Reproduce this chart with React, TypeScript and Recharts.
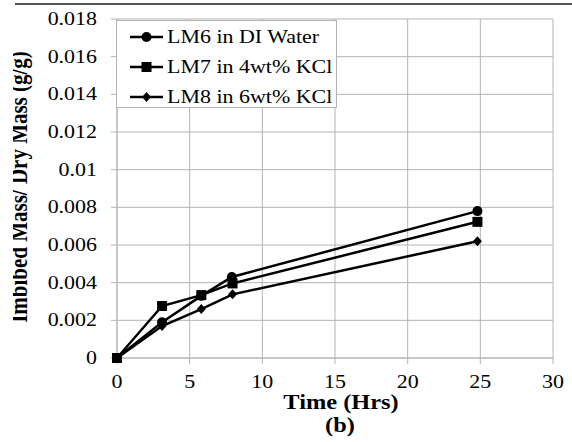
import React from 'react';
import { LineChart, Line, XAxis, YAxis, CartesianGrid } from 'recharts';

const xTicks = [0, 5, 10, 15, 20, 25, 30];
const yTicks = [0, 0.002, 0.004, 0.006, 0.008, 0.01, 0.012, 0.014, 0.016, 0.018];
const yTickLabels = ['0', '0.002', '0.004', '0.006', '0.008', '0.01', '0.012', '0.014', '0.016', '0.018'];

const lm6Data = [
    { x: 0, y: 0 },
    { x: 3.1, y: 0.0019 },
    { x: 5.8, y: 0.0033 },
    { x: 7.9, y: 0.0043 },
    { x: 24.8, y: 0.0078 },
];
const lm7Data = [
    { x: 0, y: 0 },
    { x: 3.1, y: 0.00276 },
    { x: 5.8, y: 0.00334 },
    { x: 7.95, y: 0.00396 },
    { x: 24.8, y: 0.00723 },
];
const lm8Data = [
    { x: 0, y: 0 },
    { x: 3.1, y: 0.0017 },
    { x: 5.8, y: 0.0026 },
    { x: 7.95, y: 0.00338 },
    { x: 24.8, y: 0.0062 },
];

const SERIES = [
    { name: 'LM6 in DI Water', data: lm6Data, shape: 'circle' },
    { name: 'LM7 in 4wt% KCl', data: lm7Data, shape: 'square' },
    { name: 'LM8 in 6wt% KCl', data: lm8Data, shape: 'diamond' },
];

const FONT = '"Liberation Serif", "DejaVu Serif", serif';
const STRETCH = 1.22;
const GRID = '#b4b4b4';

const Marker = ({ cx, cy, shape }: { cx: number; cy: number; shape: string }) => {
    if (shape === 'square') return <rect x={cx - 5} y={cy - 5} width={10} height={10} fill="#000" />;
    if (shape === 'diamond')
        return <polygon points={`${cx},${cy - 5} ${cx + 4.5},${cy} ${cx},${cy + 5} ${cx - 4.5},${cy}`} fill="#000" />;
    return <circle cx={cx} cy={cy} r={5} fill="#000" />;
};

const XTick = (props: any) => {
    const { x, y, payload } = props;
    return (
        <text
            transform={`translate(${x},${y + 22}) scale(${STRETCH},1)`}
            textAnchor="middle"
            style={{ fontFamily: FONT, fontSize: 18 }}
            fill="#000"
        >
            {payload.value}
        </text>
    );
};

const YTick = (props: any) => {
    const { x, y, payload } = props;
    const idx = yTicks.indexOf(payload.value);
    return (
        <text
            transform={`translate(${x - 12},${y + 6}) scale(${STRETCH},1)`}
            textAnchor="end"
            style={{ fontFamily: FONT, fontSize: 18 }}
            fill="#000"
        >
            {yTickLabels[idx]}
        </text>
    );
};

const YLabel = () => (
    <g>
        <defs>
            <clipPath id="ylab-clip">
                <rect x={13} y={0} width={40} height={442} />
            </clipPath>
        </defs>
        <g clipPath="url(#ylab-clip)">
            <text
                transform={`translate(27,187) scale(${STRETCH},1) rotate(-90)`}
                textAnchor="middle"
                style={{ fontFamily: FONT, fontSize: 21, fontWeight: 'bold' }}
                fill="#000"
            >
                Imbibed Mass/ Dry Mass (g/g)
            </text>
        </g>
    </g>
);

const XLabel = () => (
    <g style={{ fontFamily: FONT, fontSize: 20, fontWeight: 'bold' }}>
        <text transform={`translate(341,409) scale(${STRETCH},1)`} textAnchor="middle" fill="#000">
            Time (Hrs)
        </text>
        <text transform={`translate(340,432) scale(${STRETCH},1)`} textAnchor="middle" fill="#000">
            (b)
        </text>
    </g>
);

const LegendBox = () => (
    <div
        style={{
            position: 'absolute',
            left: 116,
            top: 20,
            width: 221,
            height: 88,
            boxSizing: 'border-box',
            border: `1px solid ${GRID}`,
            background: '#fff',
            paddingTop: 1,
        }}
    >
        {SERIES.map((s) => (
            <div key={s.name} style={{ display: 'flex', alignItems: 'center', height: 30 }}>
                <svg width={36} height={14} style={{ marginLeft: 13 }}>
                    <line x1={0} y1={7} x2={33} y2={7} stroke="#000" strokeWidth={2.5} />
                    <Marker cx={16.5} cy={7} shape={s.shape} />
                </svg>
                <span
                    style={{
                        marginLeft: 1,
                        fontFamily: FONT,
                        fontSize: 18,
                        color: '#000',
                        whiteSpace: 'nowrap',
                        display: 'inline-block',
                        transform: `scaleX(${STRETCH})`,
                        transformOrigin: 'left center',
                    }}
                >
                    {s.name}
                </span>
            </div>
        ))}
    </div>
);

const App: React.FC = () => {
    return (
        <div style={{ position: 'absolute', left: 0, top: 0, width: 572, height: 442, background: '#fff' }}>
            <LineChart width={572} height={442} margin={{ top: 19, right: 19, left: 0, bottom: 0 }}>
                <CartesianGrid stroke={GRID} strokeWidth={1} />
                <XAxis
                    dataKey="x"
                    type="number"
                    domain={[0, 30]}
                    ticks={xTicks}
                    height={84}
                    stroke={GRID}
                    tickSize={6}
                    tick={<XTick />}
                    interval={0}
                    label={<XLabel />}
                />
                <YAxis
                    type="number"
                    domain={[0, 0.018]}
                    ticks={yTicks}
                    width={117}
                    stroke={GRID}
                    tickSize={6}
                    tick={<YTick />}
                    interval={0}
                    label={<YLabel />}
                />
                {SERIES.map((s) => (
                    <Line
                        key={s.name}
                        data={s.data}
                        dataKey="y"
                        name={s.name}
                        stroke="#000"
                        strokeWidth={2.5}
                        isAnimationActive={false}
                        dot={(p: any) => <Marker key={`${s.name}-${p.index}`} cx={p.cx} cy={p.cy} shape={s.shape} />}
                        activeDot={false}
                    />
                ))}
            </LineChart>
            <LegendBox />
            <svg width={572} height={12} style={{ position: 'absolute', left: 0, top: 0, pointerEvents: 'none' }}>
                <line x1={15} y1={4} x2={572} y2={4} stroke="#555" strokeWidth={2} />
            </svg>
        </div>
    );
};

export default App;
